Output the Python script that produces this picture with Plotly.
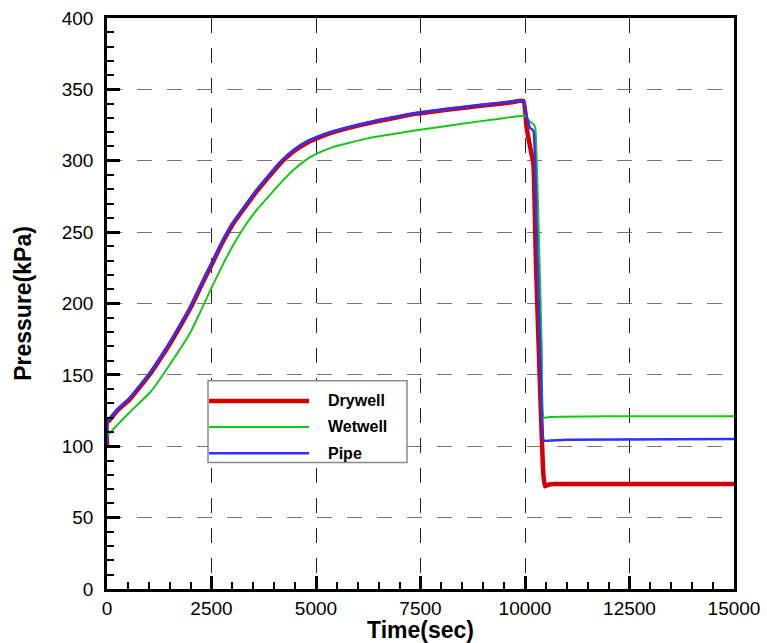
import plotly.graph_objects as go

# ---- data ----
dry_t = [0, 0, 50, 250, 550, 800, 1040, 1280, 1520, 1750, 2000, 2230, 2500, 2750, 3020,
         3340, 3580, 3820, 4140, 4460, 4780, 5100, 5420, 6210, 7410, 8500, 9400, 9700,
         9960, 10040, 10120, 10200, 10260, 10350, 10440, 10480, 10560, 10700, 12000, 15000]
dry_v = [100, 117, 118, 125, 133, 142, 151, 161.5, 172.5, 184, 197, 211, 227, 242, 256,
         269, 278.5, 287, 298, 306.5, 312.5, 316.7, 320, 326, 333, 337, 340, 341,
         342, 323, 310, 298, 230, 150, 80, 72, 73, 73.5, 73.5, 73.5]

wet_t = [0, 0, 250, 550, 1040, 1520, 2000, 2230, 2500, 2750, 3020, 3340, 3580, 3820, 4140,
         4460, 4780, 5100, 5420, 6210, 7410, 8500, 9400, 10000, 10100, 10220, 10250,
         10330, 10400, 10450, 10600, 12000, 15000]
wet_v = [103, 107, 115, 124, 138, 158, 180, 194, 211, 226, 241, 256, 265.5, 273.5, 284,
         293.5, 301, 306, 309.7, 315.5, 321.3, 326, 329.5, 331.5, 328, 325, 322,
         250, 170, 120, 120.5, 121, 121]

pipe_t = [0, 0, 50, 250, 550, 800, 1040, 1280, 1520, 1750, 2000, 2230, 2500, 2750, 3020,
          3340, 3580, 3820, 4140, 4460, 4780, 5100, 5420, 6210, 7410, 8500, 9400, 9700,
          9960, 10050, 10120, 10200, 10280, 10380, 10450, 10600, 11000, 15000]
pipe_v = [102, 117, 119, 126, 134, 143, 152, 162.5, 173.5, 185, 198, 212, 228, 243, 257,
          270, 279.5, 288, 299, 307.5, 313.5, 317.5, 320.7, 326.5, 333.5, 337.5, 340.5, 341.5,
          342, 330, 323, 321, 250, 150, 104, 104, 104.5, 105]

series_names = ["Drywell", "Wetwell", "Pipe"]
series_colors = ["#d40000", "#16c816", "#2f2fff"]
series_widths = [4.5, 2, 2.5]

x_ticks = [0, 2500, 5000, 7500, 10000, 12500, 15000]
y_ticks = [0, 50, 100, 150, 200, 250, 300, 350, 400]

FONT = "Liberation Sans, Arial, sans-serif"

fig = go.Figure()
for t, v, name, c, w in zip([dry_t, wet_t, pipe_t], [dry_v, wet_v, pipe_v],
                            series_names, series_colors, series_widths):
    fig.add_trace(go.Scatter(x=t, y=v, mode="lines", name=name,
                             line=dict(color=c, width=w, shape="spline", smoothing=0.4),
                             showlegend=False))

# plot area in pixels: x 107..734, y 18..589.5
L, R, T, B = 107, 734, 18, 589.5
W, H = R - L, B - T
def px(x):
    return (x - L) / W
def py(y):
    return (B - y) / H

shapes = [dict(type="rect", xref="paper", yref="paper",
               x0=px(208), x1=px(407), y0=py(463), y1=py(381),
               line=dict(color="#8a8a8a", width=1.5), fillcolor="white", layer="above")]
annotations = []
leg_y = [401.3, 427.3, 453.7]
for name, c, w, yy in zip(series_names, series_colors, series_widths, leg_y):
    shapes.append(dict(type="line", xref="paper", yref="paper",
                       x0=px(209), x1=px(309), y0=py(yy), y1=py(yy),
                       line=dict(color=c, width=w), layer="above"))
    annotations.append(dict(xref="paper", yref="paper", x=px(326), y=py(yy),
                            text="<b>%s</b>" % name, showarrow=False,
                            xanchor="left", yanchor="middle",
                            font=dict(family=FONT, size=16, color="black")))

# x-axis title as annotation (placed just below the tick labels)
annotations.append(dict(xref="paper", yref="paper", x=px(420), y=py(631),
                        text="<b>Time(sec)</b>", showarrow=False,
                        xanchor="center", yanchor="middle",
                        font=dict(family=FONT, size=23, color="black")))

fig.update_layout(
    width=767, height=643,
    margin=dict(l=L, r=767 - R, t=T, b=643 - B),
    paper_bgcolor="white", plot_bgcolor="white",
    shapes=shapes, annotations=annotations,
    font=dict(family=FONT, color="black"),
)
fig.update_xaxes(
    range=[0, 15000], tickvals=x_ticks, ticktext=[str(v) for v in x_ticks],
    automargin=False,
    showline=True, linecolor="black", linewidth=2.5, mirror=True,
    ticks="inside", ticklen=13, tickwidth=3, tickcolor="black",
    minor=dict(dtick=500, ticks="inside", ticklen=7, tickwidth=1.5, tickcolor="black", showgrid=False),
    showgrid=True, gridcolor="#222", gridwidth=1, griddash="15px,15px",
    zeroline=False, tickfont=dict(size=19, family=FONT),
    ticklabelstandoff=0,
)
fig.update_yaxes(
    range=[0, 400], tickvals=y_ticks, ticktext=[str(v) for v in y_ticks],
    automargin=False,
    showline=True, linecolor="black", linewidth=2.5, mirror=True,
    ticks="inside", ticklen=13, tickwidth=3, tickcolor="black",
    minor=dict(dtick=10, ticks="inside", ticklen=7, tickwidth=1.5, tickcolor="black", showgrid=False),
    showgrid=True, gridcolor="#777", gridwidth=1, griddash="15px,15px",
    zeroline=False, tickfont=dict(size=19, family=FONT),
    title=dict(text="<b>Pressure(kPa)</b>", font=dict(size=23, family=FONT), standoff=24),
    ticklabelstandoff=7,
)

fig.write_html("out.html")
